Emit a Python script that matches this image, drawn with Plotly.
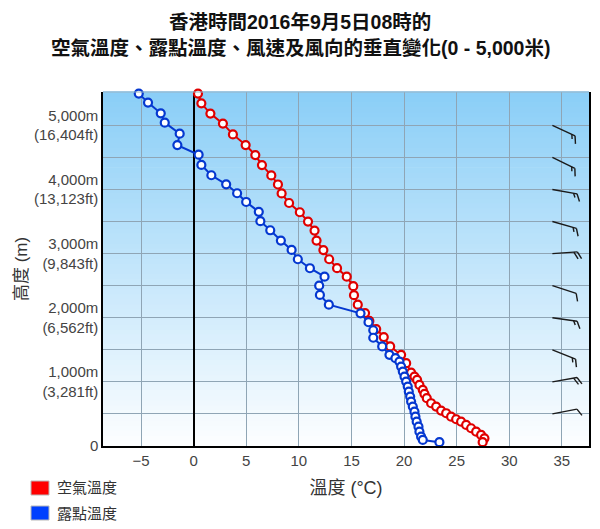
import plotly.graph_objects as go
import math

# ---------------- data ----------------
air_temp = [0.41, 0.73, 1.59, 2.78, 3.73, 4.94, 5.86, 6.49, 7.38, 8.01, 8.36, 9.07, 10.09, 10.87,
            11.49, 11.68, 12.33, 12.88, 13.63, 14.55, 15.17, 15.24, 15.60, 16.29, 16.70, 17.35,
            18.07, 18.68, 19.72, 20.20, 20.67, 20.99, 21.24, 21.46, 21.78, 21.94, 22.16, 22.57,
            23.05, 23.52, 24.00, 24.47, 24.95, 25.42, 25.90, 26.37, 26.85, 27.32, 27.64, 27.47]
air_height = [5495, 5344, 5183, 5027, 4859, 4692, 4536, 4380, 4219, 4078, 3938, 3789, 3645, 3500,
              3359, 3203, 3055, 2912, 2773, 2641, 2492, 2352, 2203, 2073, 1950, 1823,
              1698, 1552, 1422, 1292, 1145, 1083, 1031, 953, 875, 812, 745, 667,
              614, 552, 511, 458, 417, 380, 328, 277, 223, 172, 120, 60]

dew_temp = [-5.22, -4.34, -3.13, -2.75, -1.33, -1.55, 0.47, 0.73, 1.68, 3.09, 4.13, 4.99, 6.19,
            6.34, 7.28, 8.29, 9.31, 9.90, 11.05, 12.44, 11.93, 12.00, 12.85, 15.86, 16.62,
            17.07, 17.07, 17.92, 18.61, 19.18, 19.56, 19.72, 19.88, 20.04, 20.20, 20.35, 20.45,
            20.58, 20.67, 20.83, 20.99, 21.08, 21.20, 21.37, 21.46, 21.62, 21.78, 23.36]
dew_height = [5495, 5355, 5188, 5042, 4870, 4692, 4542, 4383, 4222, 4081, 3941, 3805, 3652,
              3505, 3364, 3203, 3058, 2912, 2772, 2641, 2500, 2355, 2203, 2069, 1930,
              1805, 1688, 1552, 1422, 1370, 1317, 1239, 1161, 1083, 1005, 927, 848,
              770, 692, 614, 536, 458, 380, 302, 223, 145, 94, 60]

wind_height = [5000, 4500, 4000, 3500, 3000, 2500, 2000, 1500, 1000, 500]
wind_dir = [115, 116, 100, 106, 86, 108, 98, 112, 80, 79]      # degrees
wind_speed = [15, 15, 15, 15, 20, 10, 15, 15, 20, 10]           # knots

x_tickvals = [-5, 0, 5, 10, 15, 20, 25, 30, 35]
y_tickvals = [0, 500, 1000, 1500, 2000, 2500, 3000, 3500, 4000, 4500, 5000]
y_ticktext = ["0", "", "1,000m<br>(3,281ft)", "", "2,000m<br>(6,562ft)", "",
              "3,000m<br>(9,843ft)", "", "4,000m<br>(13,123ft)", "", "5,000m<br>(16,404ft)"]

title_lines = ["香港時間2016年9月5日08時的",
               "空氣溫度、露點溫度、風速及風向的垂直變化(0 - 5,000米)"]
legend_names = ["空氣溫度", "露點溫度"]

# ---------------- layout constants ----------------
# The page body has an 8px margin, so the figure is drawn 8px in from the
# window's top-left corner; the figure is sized to fit the 600x529 window.
OFF = 8
WIN_W, WIN_H = 600, 529
W, H = WIN_W - 2 * OFF, WIN_H - 2 * OFF
# plot area in window pixels: x 103..589, y 92..446
ML = 103 - OFF
MT = 92 - OFF
MR = W - (589 - OFF)
MB = H - (446 - OFF)
XR = [-8.62, 37.58]
YR = [0, 5520]
PW = W - ML - MR
PH = H - MT - MB
px_per_x = PW / (XR[1] - XR[0])
px_per_y = PH / (YR[1] - YR[0])


def pxx(px):
    """window x pixel -> paper x"""
    return (px - OFF - ML) / PW


def pxy(py):
    """window y pixel -> paper y"""
    return (H - MB - (py - OFF)) / PH


FONT = "Liberation Sans, Arial, Noto Sans CJK TC, sans-serif"
RED = "#e00000"
BLUE = "#0538d0"

fig = go.Figure()

# background gradient (light sky blue at top -> white at bottom)
N = 70
top_c = (138, 206, 247)
bot_c = (253, 254, 255)
for i in range(N):
    f0 = i / N
    f1 = (i + 1) / N
    fm = (f0 + f1) / 2
    c = tuple(round(bot_c[k] + (top_c[k] - bot_c[k]) * fm) for k in range(3))
    fig.add_shape(type="rect", xref="paper", yref="paper", x0=0, x1=1, y0=f0, y1=f1 + 0.002,
                  fillcolor="rgb(%d,%d,%d)" % c, line_width=0, layer="below")

# data traces
fig.add_trace(go.Scatter(x=air_temp, y=air_height, mode="lines+markers", name=legend_names[0],
                         line=dict(color=RED, width=2),
                         marker=dict(symbol="circle", size=8, color="white",
                                     line=dict(color=RED, width=2.2)),
                         cliponaxis=False, showlegend=False))
fig.add_trace(go.Scatter(x=dew_temp, y=dew_height, mode="lines+markers", name=legend_names[1],
                         line=dict(color=BLUE, width=2),
                         marker=dict(symbol="circle", size=8, color="white",
                                     line=dict(color=BLUE, width=2.2)),
                         cliponaxis=False, showlegend=False))

# wind barbs
BARB_X = 34.1      # position of barb staffs (data x)
SHAFT = 25.0       # px
FULL = 8.0         # px
HALF = 4.5
SPACING = 3.5
bx, by = [], []


def to_data(x0, y0, dxp, dyp):
    return x0 + dxp / px_per_x, y0 - dyp / px_per_y


for h, d, s in zip(wind_height, wind_dir, wind_speed):
    a = math.radians(d - 90)
    ux, uy = math.cos(a), math.sin(a)           # screen direction of staff
    ex, ey = to_data(BARB_X, h, SHAFT * ux, SHAFT * uy)
    bx += [BARB_X, ex, None]
    by += [h, ey, None]
    fa = a + math.radians(62)
    fx, fy = math.cos(fa), math.sin(fa)
    n_full = int(s // 10)
    n_half = 1 if (s % 10) >= 5 else 0
    pos = SHAFT
    for k in range(n_full):
        sx, sy = to_data(BARB_X, h, pos * ux, pos * uy)
        tx, ty = to_data(sx, sy, FULL * fx, FULL * fy)
        bx += [sx, tx, None]
        by += [sy, ty, None]
        pos -= SPACING
    for k in range(n_half):
        sx, sy = to_data(BARB_X, h, pos * ux, pos * uy)
        tx, ty = to_data(sx, sy, HALF * fx, HALF * fy)
        bx += [sx, tx, None]
        by += [sy, ty, None]

fig.add_trace(go.Scatter(x=bx, y=by, mode="lines", line=dict(color="#1a1a1a", width=1.4),
                         hoverinfo="skip", showlegend=False, cliponaxis=False))

# manual legend (square swatches + labels)
for name, col, cy in [(legend_names[0], "#ff0000", 488), (legend_names[1], "#0040ff", 513)]:
    fig.add_shape(type="rect", xref="paper", yref="paper",
                  x0=pxx(31), x1=pxx(49), y0=pxy(cy + 7), y1=pxy(cy - 7),
                  fillcolor=col, line=dict(color="#b8b8b8", width=1), layer="above")
    fig.add_annotation(text=name, xref="paper", yref="paper", x=pxx(55), y=pxy(cy),
                       xanchor="left", yanchor="middle", showarrow=False,
                       font=dict(family=FONT, size=15, color="#333333"))

# title as two annotations
for txt, ypx in zip(title_lines, [22, 48]):
    fig.add_annotation(text="<b>%s</b>" % txt, xref="paper", yref="paper",
                       x=pxx(WIN_W / 2), y=pxy(ypx), xanchor="center",
                       yanchor="middle", showarrow=False,
                       font=dict(family=FONT, size=19.5, color="#111111"))

# top border (light)
fig.add_shape(type="line", xref="paper", yref="paper", x0=0, x1=1, y0=1, y1=1,
              line=dict(color="#9ab4c6", width=1), layer="above")

fig.update_layout(
    width=W, height=H,
    margin=dict(l=ML, r=MR, t=MT, b=MB, autoexpand=False),
    paper_bgcolor="white", plot_bgcolor="white",
    font=dict(family=FONT, color="#333333"),
    showlegend=False,
    xaxis=dict(range=XR, tickvals=x_tickvals, showgrid=True, gridcolor="#8fa5b5", gridwidth=1,
               zeroline=True, zerolinecolor="#000000", zerolinewidth=1.5,
               showline=True, linecolor="#000000", linewidth=1.5, mirror=False,
               ticks="", tickfont=dict(family=FONT, size=15, color="#444444"),
               title=dict(text="溫度 (°C)", font=dict(family=FONT, size=18, color="#333333"),
                          standoff=14)),
    yaxis=dict(range=YR, tickvals=y_tickvals, ticktext=y_ticktext, showgrid=True,
               gridcolor="#8fa5b5", gridwidth=1, zeroline=False,
               showline=True, linecolor="#000000", linewidth=1.5, mirror=True,
               ticks="", tickfont=dict(family=FONT, size=15, color="#444444"),
               title=dict(text="高度 (m)", font=dict(family=FONT, size=17, color="#333333"),
                          standoff=2)),
)

fig.write_html("out.html")
